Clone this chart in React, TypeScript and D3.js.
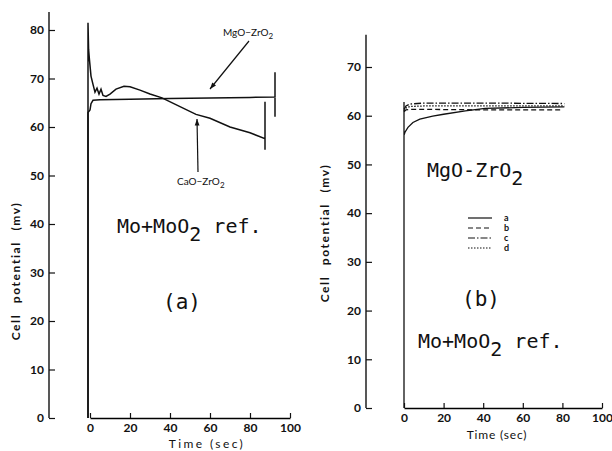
import React, { useEffect, useRef } from 'react';
import * as d3 from 'd3';

type Pt = [number, number];

// panel (a): Mo+MoO2 reference, time (sec) vs cell potential (mV)
const mgoA: Pt[] = [
  [-1, 0], [-1, 63], [0, 63.5], [0.5, 64.8], [1.5, 65.5], [5, 65.6], [20, 65.7],
  [40, 65.9], [60, 66], [80, 66.1], [92.5, 66.2], [92.5, 71.3], [92.5, 62.1],
];
const caoA: Pt[] = [
  [-1, 0], [-1, 81.5], [-0.7, 76], [-0.3, 74], [0.5, 70.5], [1.5, 68.8], [2.5, 67.2],
  [3.5, 68], [4.5, 66.8], [5.5, 67.8], [6.5, 66.5], [8, 66.3], [10, 66.8], [13, 67.8],
  [17, 68.4], [20, 68.3], [25, 67.6], [30, 66.8], [36, 66], [45, 64.2], [53, 62.6],
  [60, 61.8], [70, 60], [80, 58.8], [87.5, 57.6], [87.5, 65.2], [87.5, 55.3],
];

// panel (b): MgO-ZrO2, runs a-d
const runA: Pt[] = [
  [0, 0], [0, 62.8], [0, 56], [0.5, 56.6], [2, 57.6], [4.5, 58.6], [8, 59.3],
  [14.5, 59.9], [20, 60.3], [31, 61], [41, 61.5], [60, 61.7], [81, 61.8],
];
const runB: Pt[] = [[0, 60.8], [1, 61.2], [3, 61.3], [10, 61.3], [40, 61.2], [79, 61.2]];
const runC: Pt[] = [[0, 61.3], [1, 62], [3, 62.4], [10, 62.6], [40, 62.6], [81, 62.5]];
const runD: Pt[] = [[0, 61], [1, 61.6], [3, 61.9], [10, 62], [81, 62]];

const runNames = ['a', 'b', 'c', 'd'];
const runDashes = ['none', '5,3', '7,2,1.5,2', '1.5,1.5'];

const xTicks = [0, 20, 40, 60, 80, 100];
const yTicksA = [0, 10, 20, 30, 40, 50, 60, 70, 80];
const yTicksB = [0, 10, 20, 30, 40, 50, 60, 70];

const INK = '#111';
const SANS = 'Lato, "DejaVu Sans", sans-serif';
const MONO = '"DejaVu Sans Mono", "Liberation Mono", monospace';

const yLabelStyle = { fontFamily: SANS, fontSize: 12, fontWeight: 'bold', letterSpacing: 1.6, wordSpacing: 6 };

const Labels = () => (
  <g fill={INK}>
    {/* y labels */}
    <text transform="translate(20,271) rotate(-90)" textAnchor="middle" style={yLabelStyle}>
      Cell potential (mv)
    </text>
    <text transform="translate(329,233) rotate(-90)" textAnchor="middle" style={yLabelStyle}>
      Cell potential (mv)
    </text>
    {/* x labels */}
    <text x={207} y={448} textAnchor="middle"
      style={{ fontFamily: SANS, fontSize: 12, letterSpacing: 2.4 }}>Time (sec)</text>
    <text x={497} y={439} textAnchor="middle"
      style={{ fontFamily: SANS, fontSize: 12, letterSpacing: 0.8 }}>Time (sec)</text>
    {/* annotations (a) */}
    <text x={223} y={36} style={{ fontFamily: SANS, fontSize: 10 }}>
      MgO−ZrO<tspan dy={3} fontSize={8}>2</tspan>
    </text>
    <text x={177} y={185} style={{ fontFamily: SANS, fontSize: 10 }}>
      CaO−ZrO<tspan dy={3} fontSize={8}>2</tspan>
    </text>
    <text x={117} y={233} style={{ fontFamily: MONO, fontSize: 20 }}>
      Mo+MoO<tspan dy={8}>2</tspan><tspan dy={-8}> ref.</tspan>
    </text>
    <text x={182} y={309} textAnchor="middle" style={{ fontFamily: MONO, fontSize: 21 }}>(a)</text>
    {/* annotations (b) */}
    <text x={427} y={177} style={{ fontFamily: MONO, fontSize: 20 }}>
      MgO-ZrO<tspan dy={8}>2</tspan>
    </text>
    <text x={481} y={306} textAnchor="middle" style={{ fontFamily: MONO, fontSize: 21 }}>(b)</text>
    <text x={418} y={348} style={{ fontFamily: MONO, fontSize: 20 }}>
      Mo+MoO<tspan dy={8}>2</tspan><tspan dy={-8}> ref.</tspan>
    </text>
  </g>
);

const App = () => {
  const plotRef = useRef<SVGGElement>(null);

  useEffect(() => {
    const svg = d3.select(plotRef.current);
    svg.selectAll('*').remove();

    const xA = d3.scaleLinear().domain([0, 100]).range([90, 290]);
    const yA = d3.scaleLinear().domain([0, 80]).range([418, 30]);
    const xB = d3.scaleLinear().domain([0, 100]).range([404, 602]);
    const yB = d3.scaleLinear().domain([0, 70]).range([408, 67]);

    const drawAxes = (x, y, yTicks, yAxisX, yTop) => {
      const gy = svg.append('g').attr('transform', `translate(${yAxisX},0)`)
        .call(d3.axisLeft(y).tickValues(yTicks).tickSize(-6).tickSizeOuter(0).tickPadding(5));
      gy.select('.domain').remove();
      gy.append('line').attr('x1', 0).attr('x2', 0)
        .attr('y1', y(0)).attr('y2', y(yTop)).attr('stroke', INK).attr('stroke-width', 1.4);

      const gx = svg.append('g').attr('transform', `translate(0,${y(0)})`)
        .call(d3.axisBottom(x).tickValues(xTicks).tickSize(-5).tickSizeOuter(0).tickPadding(5));
      gx.select('.domain').attr('stroke-width', 1.4);

      svg.selectAll('.tick line').attr('stroke', INK).attr('stroke-width', 1.2);
      svg.selectAll('.tick text')
        .attr('fill', INK)
        .style('font-family', SANS)
        .style('font-size', '12px')
        .style('font-weight', 'bold');
    };

    drawAxes(xA, yA, yTicksA, 49, 83.7);
    drawAxes(xB, yB, yTicksB, 366, 76.6);

    const lineA = d3.line<Pt>().x(d => xA(d[0])).y(d => yA(d[1]));
    const lineB = d3.line<Pt>().x(d => xB(d[0])).y(d => yB(d[1]));

    [mgoA, caoA].forEach(s => {
      svg.append('path').attr('d', lineA(s)).attr('fill', 'none')
        .attr('stroke', INK).attr('stroke-width', 1.5);
    });

    [runA, runB, runC, runD].forEach((s, i) => {
      svg.append('path').attr('d', lineB(s)).attr('fill', 'none')
        .attr('stroke', INK).attr('stroke-width', 1.3)
        .attr('stroke-dasharray', runDashes[i]);
    });

    // legend for panel (b)
    runNames.forEach((name, i) => {
      const ly = 218 + i * 10;
      svg.append('line').attr('x1', 468).attr('x2', 492).attr('y1', ly).attr('y2', ly)
        .attr('stroke', INK).attr('stroke-width', 1.2).attr('stroke-dasharray', runDashes[i]);
      svg.append('text').attr('x', 504).attr('y', ly + 3).text(name)
        .attr('fill', INK).style('font-family', SANS).style('font-size', '9px').style('font-weight', 'bold');
    });

    // arrows in panel (a)
    const arrow = (x1, y1, x2, y2) => {
      svg.append('line').attr('x1', x1).attr('y1', y1).attr('x2', x2).attr('y2', y2)
        .attr('stroke', INK).attr('stroke-width', 1.2);
      const ang = Math.atan2(y2 - y1, x2 - x1);
      const L = 7, W = 0.35;
      const p = [
        [x2, y2],
        [x2 - L * Math.cos(ang - W), y2 - L * Math.sin(ang - W)],
        [x2 - L * Math.cos(ang + W), y2 - L * Math.sin(ang + W)],
      ];
      svg.append('path').attr('d', `M${p[0]}L${p[1]}L${p[2]}Z`).attr('fill', INK);
    };
    arrow(249, 41, 210, 89);
    arrow(198, 172, 197, 119);
  }, []);

  return (
    <svg width={612} height={451}
      style={{ position: 'absolute', left: 0, top: 0, background: '#fff', display: 'block' }}>
      <g ref={plotRef} />
      <Labels />
    </svg>
  );
};

export default App;
